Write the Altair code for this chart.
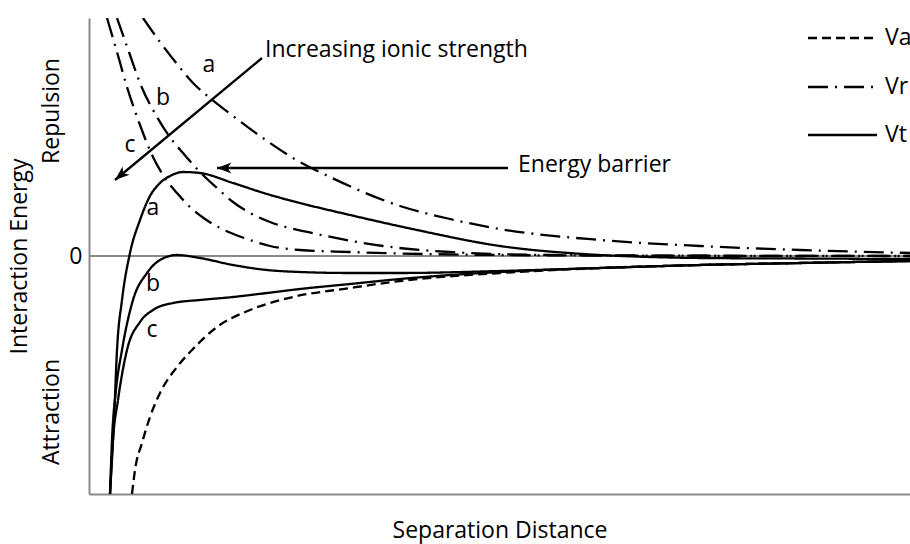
import altair as alt
import pandas as pd

FONT = "Open Sans"
FS = 23
GRAY = "#8a8a8a"

# ---- curves (arbitrary units: separation distance vs interaction energy) ----
va_x = [4.3, 4.6, 5.3, 6.1, 7.1, 8.8, 10.3, 12.8, 16.1, 20.4, 26.1, 31.1, 41.1, 51.1, 61.1, 71.1, 82.1]
va_y = [-23.8, -21.4, -18.7, -16.1, -13.7, -11.1, -9.4, -7.1, -5.4, -4.1, -3.2, -2.5, -1.7, -1.2, -0.9, -0.7, -0.5]

vra_x = [5.4, 7.1, 8.8, 10.4, 12.1, 14.4, 17.1, 20.4, 24.1, 31.1, 36.1, 41.1, 51.1, 61.1, 71.1, 82.1]
vra_y = [23.8, 21.4, 19.2, 17.3, 15.8, 14.0, 12.0, 9.8, 7.9, 5.0, 3.7, 2.7, 1.6, 1.0, 0.6, 0.3]

vrb_x = [2.8, 4.1, 5.1, 6.8, 8.3, 9.4, 11.1, 12.8, 14.4, 16.1, 18.1, 22.8, 29.4, 36.1, 46.1, 61.1, 82.1]
vrb_y = [23.8, 20.1, 17.3, 13.9, 11.6, 10.3, 8.4, 6.8, 5.4, 4.3, 3.4, 2.2, 1.0, 0.4, 0.1, 0.03, 0.0]

vrc_x = [1.8, 2.8, 3.8, 5.1, 6.4, 7.4, 8.8, 10.1, 11.6, 13.3, 15.8, 18.1, 21.1, 26.1, 31.1, 41.1, 51.1, 82.1]
vrc_y = [23.8, 20.4, 16.9, 13.1, 9.9, 8.1, 6.3, 4.9, 3.7, 2.7, 1.7, 1.0, 0.6, 0.4, 0.25, 0.1, 0.05, 0.0]

vta_x = [2.1, 2.5, 2.8, 3.3, 4.1, 5.1, 6.1, 7.1, 8.1, 9.4, 11.1, 14.4, 17.8, 21.1, 26.1, 32.8, 41.1, 49.4, 56.1, 61.1, 71.1, 82.1]
vta_y = [-23.8, -16.4, -9.4, -4.4, 0.3, 3.6, 6.0, 7.3, 8.0, 8.4, 8.3, 7.3, 6.2, 5.3, 4.1, 2.6, 1.0, 0.2, -0.1, -0.2, -0.25, -0.3]

vtb_x = [2.1, 2.3, 2.7, 3.3, 4.4, 5.8, 7.1, 8.8, 11.1, 14.4, 17.8, 21.1, 26.1, 31.1, 41.1, 51.1, 61.1, 71.1, 82.1]
vtb_y = [-23.8, -18.4, -13.4, -9.4, -4.4, -1.7, -0.4, 0.1, -0.2, -0.9, -1.4, -1.6, -1.7, -1.7, -1.5, -1.2, -0.9, -0.7, -0.5]

vtc_x = [2.1, 2.4, 2.9, 3.8, 5.1, 6.4, 8.4, 11.1, 14.4, 17.8, 21.1, 26.1, 31.1, 41.1, 51.1, 61.1, 71.1, 82.1]
vtc_y = [-23.8, -18.4, -14.4, -9.4, -6.6, -5.4, -4.7, -4.4, -4.1, -3.7, -3.3, -2.8, -2.3, -1.6, -1.2, -0.9, -0.7, -0.5]

# ---- labels / annotations ----
curve_lbl_text = ["a", "b", "c", "a", "b", "c"]
curve_lbl_x = [12.0, 7.4, 4.1, 6.4, 6.4, 6.3]
curve_lbl_y = [19.1, 15.8, 11.1, 4.8, -2.8, -7.4]

note_text = ["Increasing ionic strength", "Energy barrier"]
note_x = [17.6, 42.9]
note_y = [20.6, 9.1]

arrow_x = [17.3, 41.9]
arrow_y = [19.8, 8.8]
arrow_tip_x = [2.6, 12.8]
arrow_tip_y = [7.6, 8.8]

side_text = ["Repulsion", "Attraction"]
side_x = [-3.7, -3.7]
side_y = [14.5, -15.6]

legend_kind = ["Va", "Vr", "Vt"]
legend_x1 = [71.9, 71.9, 71.9]
legend_x2 = [78.8, 78.8, 78.8]
legend_y = [21.8, 16.9, 12.1]
legend_text_x = [79.6, 79.6, 79.6]

# ---- build tables ----
rows = []
for kind, name, xs, ys in [
    ("Va", "Va", va_x, va_y),
    ("Vr", "Vr a", vra_x, vra_y),
    ("Vr", "Vr b", vrb_x, vrb_y),
    ("Vr", "Vr c", vrc_x, vrc_y),
    ("Vt", "Vt a", vta_x, vta_y),
    ("Vt", "Vt b", vtb_x, vtb_y),
    ("Vt", "Vt c", vtc_x, vtc_y),
]:
    for xv, yv in zip(xs, ys):
        rows.append({"x": xv, "y": yv, "kind": kind, "curve": name})
curves = pd.DataFrame(rows)

lbl_df = pd.DataFrame({"x": curve_lbl_x, "y": curve_lbl_y, "t": curve_lbl_text})
note_df = pd.DataFrame({"x": note_x, "y": note_y, "t": note_text})
arrow_df = pd.DataFrame({"x": arrow_x, "y": arrow_y, "x2": arrow_tip_x, "y2": arrow_tip_y})
tip1 = pd.DataFrame({"x": arrow_tip_x[:1], "y": arrow_tip_y[:1]})
tip2 = pd.DataFrame({"x": arrow_tip_x[1:], "y": arrow_tip_y[1:]})
side_df = pd.DataFrame({"x": side_x, "y": side_y, "t": side_text})
leg_df = pd.DataFrame({"x": legend_x1, "x2": legend_x2, "y": legend_y, "kind": legend_kind,
                       "tx": legend_text_x})
zero_df = pd.DataFrame({"y": [0.0]})

xscale = alt.Scale(domain=[0, 82.1], nice=False, zero=False)
yscale = alt.Scale(domain=[-23.8, 23.8], nice=False, zero=False)

xaxis = alt.Axis(title="Separation Distance", labels=False, ticks=False, grid=False,
                 domainColor=GRAY, domainWidth=2, titleFont=FONT, titleFontSize=FS,
                 titleFontWeight="normal", titleColor="black", titleY=36,
                 titleBaseline="middle")
yaxis = alt.Axis(values=[0], title="Interaction Energy", grid=False, ticks=False,
                 labelFont=FONT, labelFontSize=FS, labelColor="black", labelPadding=7,
                 domainColor=GRAY, domainWidth=2, titleFont=FONT, titleFontSize=FS,
                 titleFontWeight="normal", titleColor="black", titleX=-70, titleY=238,
                 titleAngle=270, titleAlign="center", titleBaseline="middle")

X = alt.X("x:Q", scale=xscale, axis=xaxis)
Y = alt.Y("y:Q", scale=yscale, axis=yaxis)

dash = alt.StrokeDash("kind:N",
                      scale=alt.Scale(domain=["Va", "Vr", "Vt"],
                                      range=[[9, 5], [20, 7, 2, 7], [1, 0]]),
                      legend=None)

zero_rule = alt.Chart(zero_df).mark_rule(color=GRAY, strokeWidth=2).encode(y=Y)

lines = alt.Chart(curves).mark_line(
    interpolate="monotone", clip=True, color="black", strokeWidth=2.3
).encode(x=X, y=Y, detail="curve:N", strokeDash=dash)

labels = alt.Chart(lbl_df).mark_text(
    font=FONT, fontSize=FS, color="black", align="center", baseline="middle"
).encode(x=X, y=Y, text="t:N")

notes = alt.Chart(note_df).mark_text(
    font=FONT, fontSize=FS, color="black", align="left", baseline="middle"
).encode(x=X, y=Y, text="t:N")

arrows = alt.Chart(arrow_df).mark_rule(color="black", strokeWidth=2.3).encode(
    x=X, y=Y, x2="x2:Q", y2="y2:Q")

HEAD = "M0,0L0.75,2L0,1.45L-0.75,2Z"
head1 = alt.Chart(tip1).mark_point(shape=HEAD, filled=True, color="black", opacity=1,
                                   size=210, angle=230).encode(x=X, y=Y)
head2 = alt.Chart(tip2).mark_point(shape=HEAD, filled=True, color="black", opacity=1,
                                   size=210, angle=270).encode(x=X, y=Y)

side = alt.Chart(side_df).mark_text(
    font=FONT, fontSize=FS, color="black", align="center", baseline="middle",
    angle=270
).encode(x=X, y=Y, text="t:N")

leg_lines = alt.Chart(leg_df).mark_rule(color="black", strokeWidth=2.3).encode(
    x=X, x2="x2:Q", y=Y, strokeDash=dash)
leg_text = alt.Chart(leg_df).mark_text(
    font=FONT, fontSize=FS, color="black", align="left", baseline="middle"
).encode(x=alt.X("tx:Q", scale=xscale, axis=xaxis), y=Y, text="kind:N")

chart = alt.layer(
    zero_rule, lines, labels, notes, arrows, head1, head2, side, leg_lines, leg_text
).properties(
    width=821, height=476,
    padding={"left": 89, "top": 18, "right": 0, "bottom": 50},
    autosize="none", background="white"
).configure_view(stroke=None)

chart.save("out.html", embed_options={"renderer": "svg", "actions": False})
